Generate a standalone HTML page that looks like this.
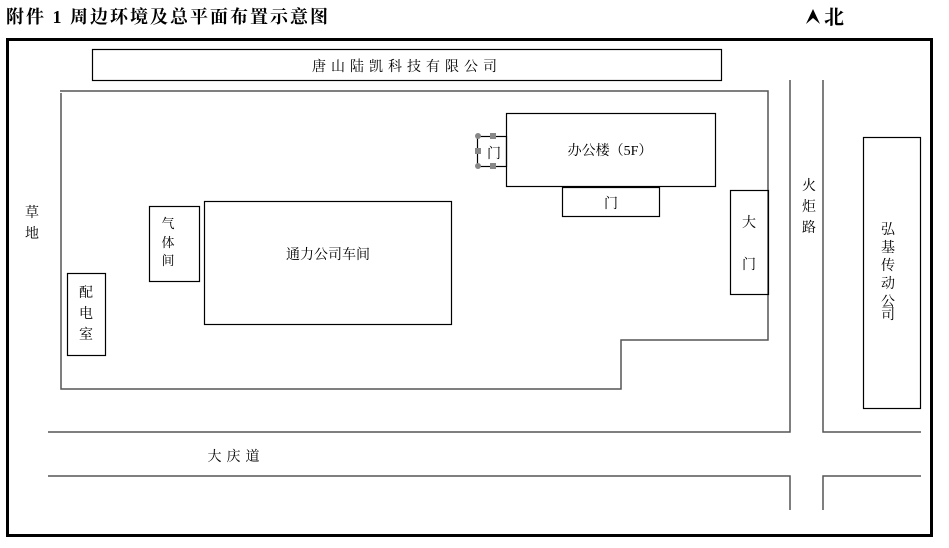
<!DOCTYPE html>
<html><head><meta charset="utf-8"><style>
body{margin:0;background:#fff}
svg text{font-family:"Liberation Serif","Noto Serif CJK SC","Noto Sans CJK SC",serif;fill:#000}
</style></head><body>
<svg width="949" height="543" xmlns="http://www.w3.org/2000/svg">
<text x="6" y="23" font-size="18" font-weight="bold" letter-spacing="2">附件 1  周边环境及总平面布置示意图</text>
<path d="M806 24L813 9L820 24L813 18Z" fill="#000"/>
<text x="824" y="24" font-size="20" font-weight="bold">北</text>
<rect x="7.5" y="39.5" width="924" height="496" fill="none" stroke="#000" stroke-width="3"/>
<g fill="none" stroke="#555" stroke-width="1.5">
<path d="M60 91H768V340H621V389H61V93"/>
<path d="M48 432H790V80M823 80V432H921"/>
<path d="M48 476H790V510M823 510V476H921"/>
</g>
<g fill="none" stroke="#000" stroke-width="1.2">
<rect x="92.5" y="49.5" width="629" height="31"/>
<rect x="506.5" y="113.5" width="209" height="73"/>
<rect x="477.5" y="136.5" width="29" height="30"/>
<rect x="562.5" y="187.5" width="97" height="29"/>
<rect x="730.5" y="190.5" width="38" height="104"/>
<rect x="149.5" y="206.5" width="50" height="75"/>
<rect x="204.5" y="201.5" width="247" height="123"/>
<rect x="67.5" y="273.5" width="38" height="82"/>
<rect x="863.5" y="137.5" width="57" height="271"/>
</g>
<g fill="#888"><circle cx="478" cy="136" r="3"/><circle cx="478" cy="166" r="3"/><rect x="490" y="133" width="6" height="6"/><rect x="490" y="163" width="6" height="6"/><rect x="475" y="148" width="6" height="6"/></g>
<g font-size="14">
<text x="407" y="71" text-anchor="middle" letter-spacing="5">唐山陆凯科技有限公司</text>
<text x="610" y="155" text-anchor="middle">办公楼（5F）</text>
<text x="494" y="158" text-anchor="middle">门</text>
<text x="611" y="208" text-anchor="middle">门</text>
<text x="749" y="227" text-anchor="middle">大</text>
<text x="749" y="269" text-anchor="middle">门</text>
<text x="168" y="228" text-anchor="middle" font-size="13">气</text>
<text x="168" y="247" text-anchor="middle" font-size="13">体</text>
<text x="168" y="265" text-anchor="middle" font-size="13">间</text>
<text x="328" y="259" text-anchor="middle">通力公司车间</text>
<text x="86" y="297" text-anchor="middle">配</text>
<text x="86" y="318" text-anchor="middle">电</text>
<text x="86" y="339" text-anchor="middle">室</text>
<text x="32" y="217" text-anchor="middle">草</text>
<text x="32" y="238" text-anchor="middle">地</text>
<text x="809" y="190" text-anchor="middle">火</text>
<text x="809" y="211" text-anchor="middle">炬</text>
<text x="809" y="232" text-anchor="middle">路</text>
<text x="888" y="234" text-anchor="middle">弘</text>
<text x="888" y="252" text-anchor="middle">基</text>
<text x="888" y="270" text-anchor="middle">传</text>
<text x="888" y="288" text-anchor="middle">动</text>
<text x="888" y="306" text-anchor="middle">公</text>
<text x="888" y="319" text-anchor="middle">司</text>
<text x="236" y="461" text-anchor="middle" letter-spacing="5">大庆道</text>
</g>
</svg>
</body></html>
